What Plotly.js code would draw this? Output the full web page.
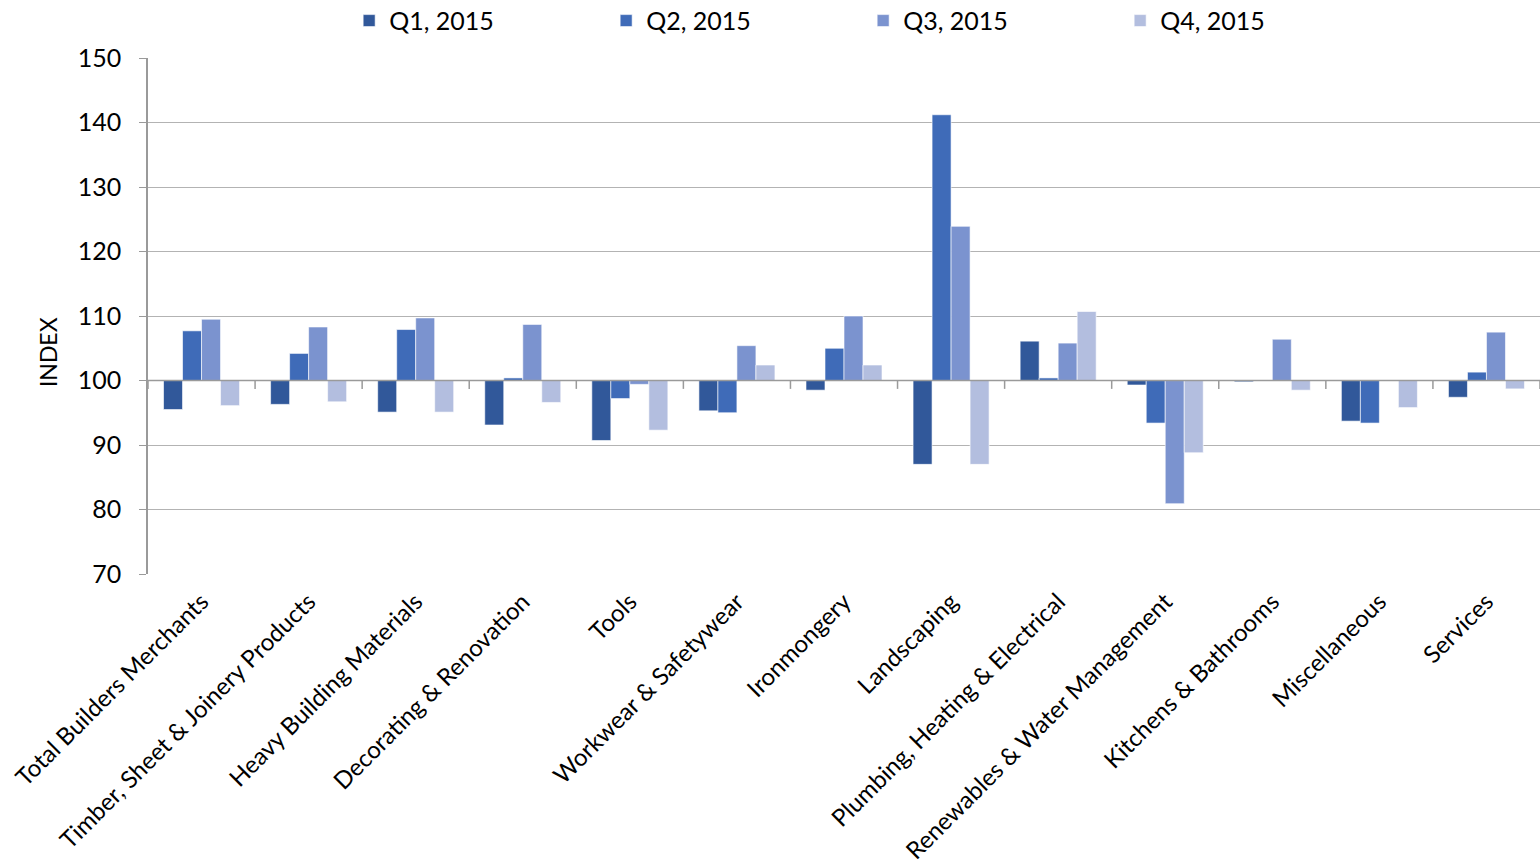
<!DOCTYPE html>
<html>
<head>
<meta charset="utf-8">
<script src="https://cdn.plot.ly/plotly-3.0.1.min.js"></script>
<style>
html,body{margin:0;padding:0;background:#fff;}
#chart{width:1540px;height:865px;}
</style>
</head>
<body>
<div id="chart"></div>
<script>
const categories = [
  "Total Builders Merchants",
  "Timber, Sheet & Joinery Products",
  "Heavy Building Materials",
  "Decorating & Renovation",
  "Tools",
  "Workwear & Safetywear",
  "Ironmongery",
  "Landscaping",
  "Plumbing, Heating & Electrical",
  "Renewables & Water Management",
  "Kitchens & Bathrooms",
  "Miscellaneous",
  "Services"
];
const seriesNames = ["Q1, 2015", "Q2, 2015", "Q3, 2015", "Q4, 2015"];
const q1 = [95.5, 96.3, 95.1, 93.1, 90.7, 95.3, 98.5, 87.0, 106.1, 99.3, 99.8, 93.7, 97.4];
const q2 = [107.7, 104.2, 107.9, 100.4, 97.2, 95.0, 105.0, 141.2, 100.4, 93.4, 100.0, 93.4, 101.3];
const q3 = [109.5, 108.3, 109.7, 108.7, 99.4, 105.4, 110.0, 123.9, 105.8, 80.9, 106.4, 100.0, 107.5];
const q4 = [96.1, 96.7, 95.1, 96.6, 92.3, 102.4, 102.4, 87.0, 110.7, 88.8, 98.5, 95.8, 98.7];
const colors = ["#31589A", "#3F6BB8", "#7B93CF", "#B3BEDF"];
const baseline = 100;

const FONT = "Lato, 'Open Sans', sans-serif";
const allSeries = [q1, q2, q3, q4];

const traces = allSeries.map((vals, i) => ({
  type: "bar",
  name: seriesNames[i],
  x: categories,
  y: vals.map(v => v - baseline),
  base: baseline,
  marker: {color: colors[i], line: {color: "rgba(255,255,255,0.6)", width: 1}},
  hovertemplate: "%{x}<br>" + seriesNames[i] + ": %{customdata}<extra></extra>",
  customdata: vals
}));

// tick marks on the 100 baseline between categories
const shapes = [];
for (let i = 0; i <= categories.length; i++) {
  shapes.push({
    type: "line", xref: "x", yref: "y",
    x0: i - 0.5, x1: i - 0.5, y0: baseline, y1: baseline - 1.3,
    line: {color: "#9a9a9a", width: 1.5}
  });
}
shapes.push({
  type: "line", xref: "paper", yref: "y",
  x0: 0, x1: 1, y0: baseline, y1: baseline,
  line: {color: "#9a9a9a", width: 1.5}
});

const layout = {
  width: 1540, height: 865,
  margin: {l: 148, r: 0, t: 58, b: 291, pad: 0, autoexpand: false},
  paper_bgcolor: "#fff", plot_bgcolor: "#fff",
  font: {family: FONT, color: "#000"},
  barmode: "group",
  bargap: 0.29,
  bargroupgap: 0,
  showlegend: true,
  legend: {
    orientation: "h", x: 0.1445, xanchor: "left", y: 1.072, yanchor: "middle",
    font: {size: 25, family: FONT, color: "#000"},
    entrywidth: 212, entrywidthmode: "pixels", itemwidth: 30,
    traceorder: "normal"
  },
  xaxis: {
    type: "category",
    tickangle: -45,
    tickfont: {size: 24, family: FONT, color: "#000"},
    ticklabelstandoff: 8,
    showgrid: false, showline: false, ticks: "", zeroline: false,
    range: [-0.5, categories.length - 0.5]
  },
  yaxis: {
    range: [70, 150],
    dtick: 10, tick0: 70,
    tickfont: {size: 25, family: FONT, color: "#000"},
    showgrid: true, gridcolor: "#b3b3b3", gridwidth: 1.3,
    showline: true, linecolor: "#9a9a9a", linewidth: 1.5,
    ticks: "outside", ticklen: 7, tickcolor: "#9a9a9a",
    ticklabelstandoff: 13,
    zeroline: false
  },
  annotations: [{
    text: "INDEX", xref: "paper", yref: "paper",
    x: 0, xshift: -100, y: 0.43, xanchor: "center", yanchor: "middle",
    textangle: -90, showarrow: false,
    font: {size: 23, family: FONT, color: "#000"}
  }],
  shapes: shapes
};

Plotly.newPlot("chart", traces, layout, {displayModeBar: false, responsive: false});
</script>
</body>
</html>
